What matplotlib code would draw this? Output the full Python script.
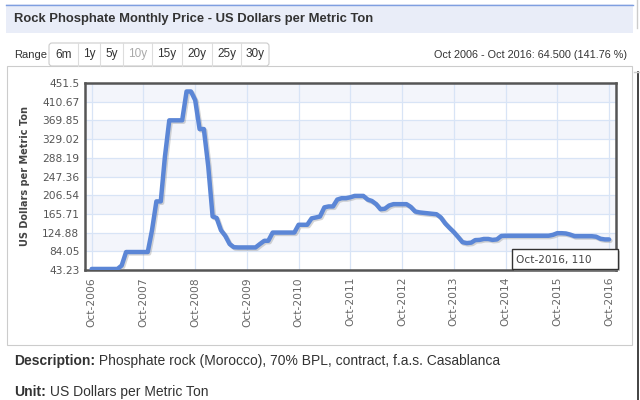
import numpy as np
import pandas as pd
import matplotlib
matplotlib.use("Agg")
import matplotlib.pyplot as plt
import matplotlib.patheffects as pe
from matplotlib.patches import Rectangle, FancyBboxPatch

# Monthly rock phosphate price, Oct 2006 .. Oct 2016
prices = [
    45.5, 45.5, 45.5, 45.5, 45.5, 45.5, 45.5, 53, 82.5, 82.5, 82.5, 82.5,  # Oct06-Sep07
    82.5, 82.5, 130, 193, 193, 290, 370, 370, 370, 370, 433, 433,          # Oct07-Sep08
    414, 351, 351, 270, 160, 157, 130, 118, 100, 93, 92.5, 92.5,           # Oct08-Sep09
    92.5, 92.5, 92.5, 100, 107, 107, 125, 125, 125, 125, 125, 125,         # Oct09-Sep10
    142, 142, 142, 156, 158, 160, 180, 182, 182, 197, 200, 200,            # Oct10-Sep11
    202, 205, 205, 205, 197, 194, 187, 176, 177, 184, 187, 187,            # Oct11-Sep12
    187, 187, 181, 171, 169, 168, 167, 166, 165, 158, 145, 135,            # Oct12-Sep13
    126, 115, 104, 102, 103, 108.5, 109, 111, 111, 109, 110, 117.5,        # Oct13-Sep14
    118, 118, 118, 118, 118, 118, 118, 118, 118, 118, 118, 120,            # Oct14-Sep15
    123.6, 123.6, 123, 120.5, 117, 117, 117, 117, 117, 116, 111.5, 110,    # Oct15-Sep16
    110,                                                                   # Oct16
]
dates = pd.date_range("2006-10-01", periods=len(prices), freq="MS")

y_ticks = [43.23, 84.05, 124.88, 165.71, 206.54, 247.36, 288.19, 329.02, 369.85, 410.67, 451.5]
x_ticks = pd.date_range("2006-10-01", "2016-10-01", freq="12MS")
x_labels = [d.strftime("Oct-%Y") for d in x_ticks]

range_buttons = ["6m", "1y", "5y", "10y", "15y", "20y", "25y", "30y"]
button_edges = [49, 78, 100, 123, 152, 182, 212, 241, 269]

title = "Rock Phosphate Monthly Price - US Dollars per Metric Ton"
change_text = "Oct 2006 - Oct 2016: 64.500 (141.76 %)"
tooltip = "Oct-2016, 110"

W, H = 640, 400
fig = plt.figure(figsize=(W / 100, H / 100), dpi=100)
fig.patch.set_facecolor("white")

# background axes in pixel coords for the page furniture
bg = fig.add_axes([0, 0, 1, 1], zorder=0)
bg.set_xlim(0, W)
bg.set_ylim(H, 0)
bg.axis("off")

sans = "Liberation Sans"
dark = "#333333"

# header band
bg.add_patch(Rectangle((6, 4), 627, 29, fc="#e9edf8", ec="none"))
bg.plot([6, 633], [4.5, 4.5], color="#7f9fe0", lw=1)
bg.text(14, 19, title, fontsize=9.4, fontweight="bold", family=sans,
        color=dark, va="center", ha="left")

# range selector
bg.text(14, 54.5, "Range", fontsize=8, family=sans, color=dark, va="center")
bg.add_patch(FancyBboxPatch((button_edges[0], 43), button_edges[-1] - button_edges[0], 23,
                            boxstyle="round,pad=0,rounding_size=3",
                            fc="white", ec="#cccccc", lw=0.8))
for xe in button_edges[1:-1]:
    bg.plot([xe, xe], [43, 66], color="#dddddd", lw=0.8)
for lab, x0, x1 in zip(range_buttons, button_edges[:-1], button_edges[1:]):
    col = "#aaaaaa" if lab == "10y" else dark
    bg.text((x0 + x1) / 2, 54.5, lab, fontsize=8.5, family=sans, color=col,
            va="center", ha="center")
bg.text(627, 54.5, change_text, fontsize=7.8, family=sans, color=dark,
        va="center", ha="right")

# chart container
bg.add_patch(Rectangle((7, 66), 625, 279, fc="white", ec="#cccccc", lw=0.8))

# right page edge bits
bg.plot([637, 637], [0, 28], color="#cccccc", lw=1)
bg.plot([638, 638], [72, 400], color="#222222", lw=1.2)
bg.plot([634, 640], [72, 72], color="#cccccc", lw=1)

# description lines
renderer = fig.canvas.get_renderer()
for y, head, rest in [(361, "Description:", " Phosphate rock (Morocco), 70% BPL, contract, f.a.s. Casablanca"),
                      (392, "Unit:", " US Dollars per Metric Ton")]:
    t = bg.text(14, y, head, fontsize=10, fontweight="bold", family=sans,
                color=dark, va="center")
    bb = t.get_window_extent(renderer)
    bg.text(bb.x1, y, rest, fontsize=10, family=sans, color=dark, va="center")

# main plot
L, R, T, B = 85, 616, 83, 270
ax = fig.add_axes([L / W, 1 - B / H, (R - L) / W, (B - T) / H], zorder=2)
ax.set_facecolor("white")
ax.set_ylim(y_ticks[0], y_ticks[-1])
ax.set_xlim(dates[0] - pd.Timedelta(days=47), dates[-1] + pd.Timedelta(days=49))

for i in range(len(y_ticks) - 1):
    if (len(y_ticks) - 2 - i) % 2 == 0:
        ax.axhspan(y_ticks[i], y_ticks[i + 1], color="#f3f5fb", lw=0, zorder=0)
for yv in y_ticks:
    ax.axhline(yv, color="#d8e4f6", lw=0.9, zorder=1)
for xv in x_ticks:
    ax.axvline(xv, color="#d8e4f6", lw=0.9, zorder=1)

ax.plot(dates, prices, color="#5b86d6", lw=3.2, solid_joinstyle="round",
        solid_capstyle="round", zorder=3,
        path_effects=[pe.SimpleLineShadow(offset=(1, -1), shadow_color="#888888", alpha=0.35),
                      pe.Normal()])

ax.set_yticks(y_ticks)
ax.set_yticklabels([f"{v:g}" for v in y_ticks])
ax.set_xticks(x_ticks)
ax.set_xticklabels(x_labels, rotation=90, va="top", ha="center")
ax.tick_params(length=0, colors="#666666", labelsize=7.7, pad=4)
ax.tick_params(axis="x", pad=5)
for lab in ax.get_yticklabels():
    lab.set_color("#555555")
ax.set_ylabel("US Dollars per Metric Ton", fontsize=7, fontweight="bold", color="#444444")
ax.yaxis.set_label_coords((30 - L) / (R - L), 0.5)

for sp in ax.spines.values():
    sp.set_color("#555555")
    sp.set_linewidth(1.8)

# tooltip box
top = fig.add_axes([0, 0, 1, 1], zorder=3)
top.set_xlim(0, W)
top.set_ylim(H, 0)
top.axis("off")
top.add_patch(Rectangle((514, 251), 106, 20, fc="#999999", ec="none", alpha=0.5))
top.add_patch(Rectangle((512, 249), 106, 20, fc="white", ec="#333333", lw=1))
top.text(516, 259.5, tooltip, fontsize=7.6, color="#444444", va="center", ha="left")

fig.savefig("out.png", dpi=100)
